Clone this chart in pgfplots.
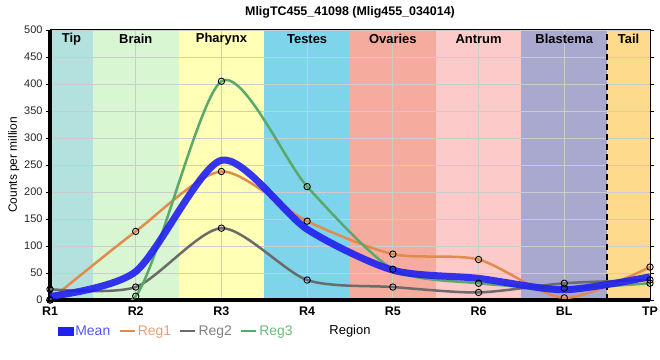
\documentclass[border=0pt]{standalone}
\usepackage{pgfplots}
\usepackage{pgfplotstable}
\pgfplotsset{compat=1.18}
\usepackage{fontspec}
\setmainfont{Liberation Sans}
\definecolor{cTip}{HTML}{B3E2DE}
\definecolor{cBrain}{HTML}{D8F6D1}
\definecolor{cPhar}{HTML}{FFFFB5}
\definecolor{cTest}{HTML}{7ED4EA}
\definecolor{cOva}{HTML}{F5AC9E}
\definecolor{cAnt}{HTML}{FDCACA}
\definecolor{cBla}{HTML}{A9A8CF}
\definecolor{cTail}{HTML}{FEDB8C}
\definecolor{cMean}{HTML}{2020F0}
\definecolor{cR1}{HTML}{E08C4E}
\definecolor{cR2}{HTML}{6B6B6B}
\definecolor{cR3}{HTML}{5AA86A}
\definecolor{tMean}{HTML}{5555FF}
\definecolor{tR1}{HTML}{E8A078}
\definecolor{tR2}{HTML}{808080}
\definecolor{tR3}{HTML}{6CBB7A}
\pgfplotstableread{
x reg1 reg2 reg3 mean
0 0 20 0 6.7
1 127 24 7 52.7
2 238 133 405 258.7
3 146 37 210 131
4 85 24 57 55.3
5 75 14 31 40
6 4 31 22 19
7 61 37 31 43
}\data
\begin{document}
\begin{tikzpicture}
\begin{axis}[
  at={(0,0)}, anchor=south west,
  scale only axis, width=600bp, height=270bp,
  xmin=0, xmax=7, ymin=0, ymax=500,
  xtick={0,...,7}, xticklabels={R1,R2,R3,R4,R5,R6,BL,TP},
  ytick={0,50,...,500},
  set layers,
  grid=major, grid style={draw=black!20, line width=0.8bp},
  axis line style={line width=1bp},
  tick align=outside,
  ytick style={black, line width=0.8bp}, major tick length=4bp,
  xtick style={draw=none},
  /pgf/number format/assume math mode=true,
  yticklabel style={font=\fontsize{11}{12}\selectfont, text=black!85},
  xticklabel style={font=\bfseries\fontsize{12.5}{14}\selectfont, yshift=1bp},
  ylabel={Counts per million},
  ylabel style={font=\fontsize{12}{14}\selectfont, yshift=-2bp},
  xlabel={Region},
  xlabel style={font=\fontsize{13}{14}\selectfont, yshift=-3bp},
  legend style={at={(0.008,-0.115)}, anchor=west, draw=none, fill=none,
    legend columns=4, font=\fontsize{14}{15}\selectfont,
    /tikz/every even column/.append style={column sep=6bp}},
  legend cell align=left,
]
\addplot[fill=cTip, draw=none, on layer=axis background, forget plot] coordinates {(0,500) (0.5,500)} \closedcycle;
\addplot[fill=cBrain, draw=none, on layer=axis background, forget plot] coordinates {(0.5,500) (1.5,500)} \closedcycle;
\addplot[fill=cPhar, draw=none, on layer=axis background, forget plot] coordinates {(1.5,500) (2.5,500)} \closedcycle;
\addplot[fill=cTest, draw=none, on layer=axis background, forget plot] coordinates {(2.5,500) (3.5,500)} \closedcycle;
\addplot[fill=cOva, draw=none, on layer=axis background, forget plot] coordinates {(3.5,500) (4.5,500)} \closedcycle;
\addplot[fill=cAnt, draw=none, on layer=axis background, forget plot] coordinates {(4.5,500) (5.5,500)} \closedcycle;
\addplot[fill=cBla, draw=none, on layer=axis background, forget plot] coordinates {(5.5,500) (6.5,500)} \closedcycle;
\addplot[fill=cTail, draw=none, on layer=axis background, forget plot] coordinates {(6.5,500) (7,500)} \closedcycle;

\addplot[black, line width=2.5bp, dash pattern=on 6bp off 4bp, forget plot] coordinates {(6.5,0) (6.5,500)};

\node[font=\bfseries\fontsize{13}{15}\selectfont] at (axis cs:0.25,483) {Tip};
\node[font=\bfseries\fontsize{13}{15}\selectfont] at (axis cs:1,483) {Brain};
\node[font=\bfseries\fontsize{13}{15}\selectfont] at (axis cs:2,483) {Pharynx};
\node[font=\bfseries\fontsize{13}{15}\selectfont] at (axis cs:3,483) {Testes};
\node[font=\bfseries\fontsize{13}{15}\selectfont] at (axis cs:4,483) {Ovaries};
\node[font=\bfseries\fontsize{13}{15}\selectfont] at (axis cs:5,483) {Antrum};
\node[font=\bfseries\fontsize{13}{15}\selectfont] at (axis cs:6,483) {Blastema};
\node[font=\bfseries\fontsize{13}{15}\selectfont] at (axis cs:6.75,483) {Tail};

\addplot[cR1, line width=2.5bp, smooth, tension=0.45, no marks, forget plot] table[x=x, y=reg1] {\data};
\addplot[cR2, line width=2.5bp, smooth, tension=0.45, no marks, forget plot] table[x=x, y=reg2] {\data};
\addplot[cR3, line width=2.5bp, smooth, tension=0.45, no marks, forget plot] table[x=x, y=reg3] {\data};
\addplot[cMean, opacity=0.9, line width=7bp, smooth, tension=0.45, no marks, forget plot] table[x=x, y=mean] {\data};

\addplot[only marks, mark=o, mark size=3.2bp, mark options={black, line width=0.9bp}, forget plot] table[x=x, y=reg1] {\data};
\addplot[only marks, mark=o, mark size=3.2bp, mark options={black, line width=0.9bp}, forget plot] table[x=x, y=reg2] {\data};
\addplot[only marks, mark=o, mark size=3.2bp, mark options={black, line width=0.9bp}, forget plot] table[x=x, y=reg3] {\data};

\addlegendimage{legend image code/.code={\fill[cMean] (0bp,-4bp) rectangle (15bp,4bp);}}
\addlegendentry{\textcolor{tMean}{Mean}}
\addlegendimage{legend image code/.code={\draw[cR1, line width=2.5bp] (0bp,0bp) -- (15bp,0bp);}}
\addlegendentry{\textcolor{tR1}{Reg1}}
\addlegendimage{legend image code/.code={\draw[cR2, line width=2.5bp] (0bp,0bp) -- (15bp,0bp);}}
\addlegendentry{\textcolor{tR2}{Reg2}}
\addlegendimage{legend image code/.code={\draw[cR3, line width=2.5bp] (0bp,0bp) -- (15bp,0bp);}}
\addlegendentry{\textcolor{tR3}{Reg3}}

\begin{pgfonlayer}{axis lines}
\draw[line width=3bp] (rel axis cs:0,1) -- (rel axis cs:0,0) -- (rel axis cs:1,0);
\end{pgfonlayer}
\end{axis}
\node[anchor=base, font=\bfseries\fontsize{12.5}{14}\selectfont] at (300bp,284bp) {MligTC455\_41098 (Mlig455\_034014)};
\pgfresetboundingbox
\useasboundingbox (-50bp,-60bp) rectangle (610bp,300bp);
\end{tikzpicture}
\end{document}
